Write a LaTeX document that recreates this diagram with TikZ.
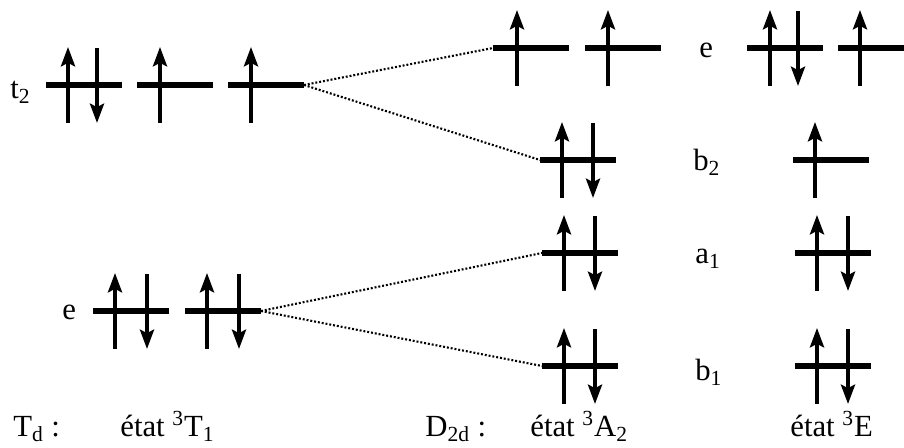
\documentclass[tikz,border=0pt]{standalone}
\usepackage{fontspec}
\setmainfont{Liberation Serif}
\usepackage{tikz}
\usetikzlibrary{arrows.meta}

% one level: [width] name, left end x, y
\newcommand{\niveau}[4][76]{\draw[level] (#3,#4) coordinate (#2-w) -- ++(#1,0) coordinate (#2-e);}
% one electron, spin up / spin down, at x on level y
\newcommand{\spinup}[2]{\draw[spin] (#1,{#2+38}) -- (#1,{#2-38});}
\newcommand{\spindown}[2]{\draw[spin] (#1,{#2-37}) -- (#1,{#2+38});}

\begin{document}
\begin{tikzpicture}[x=0.02cm, y=-0.02cm,
		level/.style={line width=3.2pt},
		spin/.style={line width=2.1pt, -{Stealth[length=11pt, width=8pt, inset=2pt]}},
		corr/.style={line width=1.2pt, dash pattern=on 1.1pt off 1.1pt},
		lab/.style={inner sep=0pt, anchor=base west, font=\fontsize{17.5}{21}\selectfont}]
		\useasboundingbox (0,0) rectangle (904,448);
		% Td : t2
		\niveau{t2a}{46}{85} \spinup{68}{85} \spindown{97}{85}
		\niveau{t2b}{137}{85} \spinup{160}{85}
		\niveau{t2c}{228}{85} \spinup{251}{85}
		% Td : e
		\niveau{ea}{93}{311} \spinup{115}{311} \spindown{147}{311}
		\niveau{eb}{185}{311} \spinup{207}{311} \spindown{239}{311}
		% D2d : etat 3A2
		\niveau{Ae1}{493}{48} \spinup{517}{48}
		\niveau{Ae2}{585}{48} \spinup{608}{48}
		\niveau{Ab2}{540}{160} \spinup{562}{160} \spindown{593}{160}
		\niveau{Aa1}{542}{253} \spinup{564}{253} \spindown{595}{253}
		\niveau{Ab1}{542}{366} \spinup{564}{366} \spindown{595}{366}
		% D2d : etat 3E
		\niveau{Ee1}{747}{48} \spinup{770}{48} \spindown{798}{48}
		\niveau[66]{Ee2}{838}{48} \spinup{860}{48}
		\niveau{Eb2}{793}{160} \spinup{815}{160}
		\niveau{Ea1}{795}{253} \spinup{817}{253} \spindown{848}{253}
		\niveau{Eb1}{795}{366} \spinup{817}{366} \spindown{848}{366}
		% Correlation lines
		\draw[corr] (t2c-e) -- (Ae1-w);
		\draw[corr] (t2c-e) -- (Ab2-w);
		\draw[corr] (eb-e) -- (Aa1-w);
		\draw[corr] (eb-e) -- (Ab1-w);
		% Level labels
		\node[lab] (labt2) at (10,99) {t\textsubscript{2}};
		\node[lab] (labe) at (62,320) {e};
		\node[lab] (labE) at (699,58) {e};
		\node[lab] (labb2) at (693,171) {b\textsubscript{2}};
		\node[lab] (laba1) at (695,264) {a\textsubscript{1}};
		\node[lab] (labb1) at (695,381) {b\textsubscript{1}};
		% Groups and states
		\node[lab] (td) at (13,437) {T\textsubscript{d} :};
		\node[lab] (etatT) at (120,437) {état \textsuperscript{3}T\textsubscript{1}};
		\node[lab] (dd) at (425,437) {D\textsubscript{2d} :};
		\node[lab] (etatA) at (530,437) {état \textsuperscript{3}A\textsubscript{2}};
		\node[lab] (etatE) at (790,437) {état \textsuperscript{3}E};
	\end{tikzpicture}
\end{document}
